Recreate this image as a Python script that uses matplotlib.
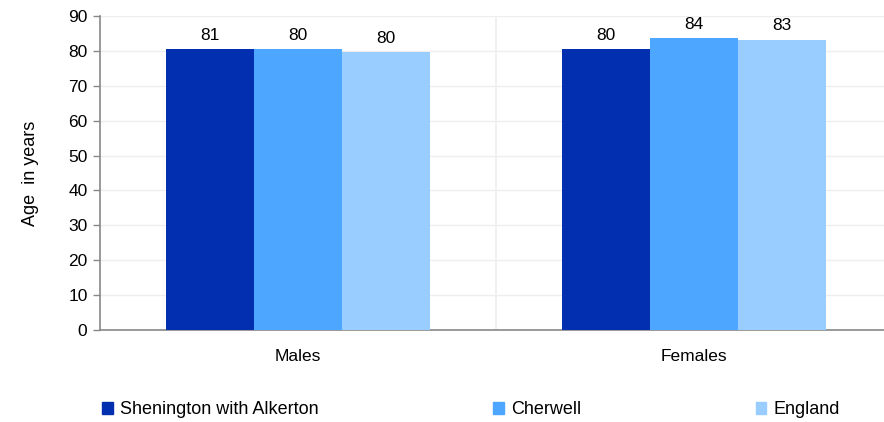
import matplotlib.pyplot as plt
import numpy as np
from matplotlib.patches import Patch

plt.rcParams['font.family'] = ['Liberation Sans', 'DejaVu Sans']

groups = ['Males', 'Females']
series = ['Shenington with Alkerton', 'Cherwell', 'England']
values = [
    [80.5, 80.4],   # Shenington with Alkerton
    [80.5, 83.7],   # Cherwell
    [79.6, 83.2],   # England
]
labels = [
    ['81', '80'],
    ['80', '84'],
    ['80', '83'],
]
colors = ['#022eb0', '#4da6ff', '#99ccff']

fig = plt.figure(figsize=(8.84, 4.22), dpi=100)
ax = fig.add_axes([100 / 884, 92 / 422, 784 / 884, 314 / 422])

x = np.arange(len(groups))
width = 0.222
for i, (name, vals) in enumerate(zip(series, values)):
    pos = x + (i - 1) * width
    ax.bar(pos, vals, width=width, color=colors[i], zorder=3, label=name)
    for px, v, lab in zip(pos, vals, labels[i]):
        ax.text(px, v + 1.8, lab, ha='center', va='bottom', fontsize=12.5)

ax.set_ylim(0, 90)
ax.set_yticks(range(0, 91, 10))
ax.set_xlim(-0.5, 1.48)
ax.set_xticks(x)
ax.set_xticklabels(groups, fontsize=12.5)
ax.tick_params(axis='x', length=0, pad=14)
ax.tick_params(axis='y', labelsize=12.5, length=5, color='#888888', width=1, pad=4)

ax.grid(axis='y', color='#eeeeee', linewidth=1, zorder=0)
ax.axvline(0.5, color='#eeeeee', linewidth=1.2, zorder=0)

for s in ['top', 'right']:
    ax.spines[s].set_visible(False)
for s in ['left', 'bottom']:
    ax.spines[s].set_color('#888888')
    ax.spines[s].set_linewidth(1.2)

ax.set_ylabel('Age  in years', fontsize=13, labelpad=21)

handles = [Patch(color=c) for c in colors]
fig.legend(handles, series, loc='center left', bbox_to_anchor=(95 / 884, 1 - 410 / 422),
           ncol=3, frameon=False, fontsize=13, handlelength=0.6, handleheight=0.6,
           handletextpad=0.4, columnspacing=9.65, borderaxespad=0)

fig.savefig('out.png', dpi=100)
